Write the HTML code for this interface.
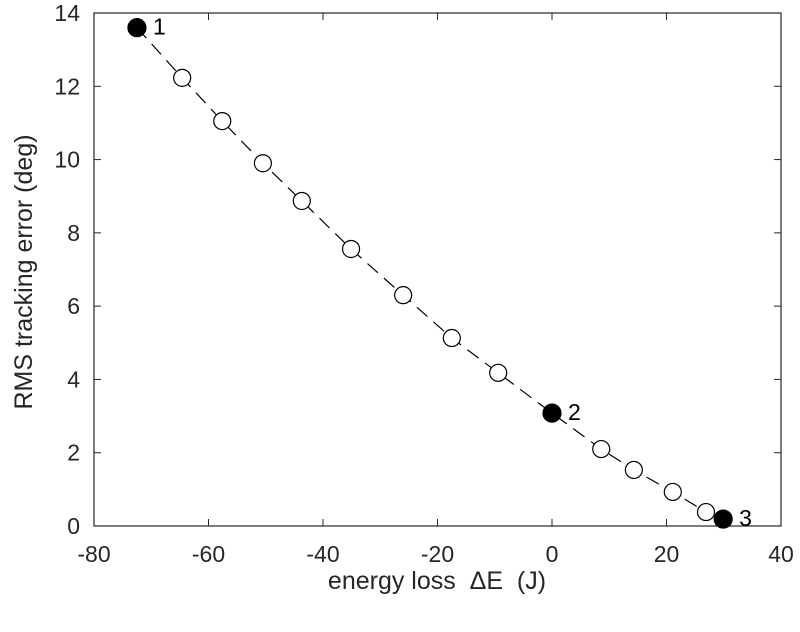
<!DOCTYPE html>
<html><head><meta charset="utf-8"><style>body{margin:0;background:#fff}svg{font-family:"Liberation Sans",Arial,sans-serif}</style></head>
<body>
<svg id="chart" width="800" height="627">
<rect x="94" y="13" width="687" height="513" fill="#fff" stroke="#262626" stroke-width="1.2"/>
<g id="ticks"></g><g id="series"></g>
<text x="437" y="589" font-size="25" text-anchor="middle" fill="#262626" xml:space="preserve">energy loss  ΔE  (J)</text>
<text transform="translate(32,272) rotate(-90)" font-size="25" text-anchor="middle" fill="#262626">RMS tracking error (deg)</text>
</svg>
<script>
const xs=[-72.5,-64.6,-57.6,-50.5,-43.7,-35.1,-26.0,-17.5,-9.4,0,8.6,14.3,21.1,26.9,29.9];
const ys=[13.6,12.23,11.05,9.9,8.87,7.56,6.3,5.13,4.18,3.08,2.1,1.53,0.93,0.38,0.19];
const filled=[1,0,0,0,0,0,0,0,0,1,0,0,0,0,1];
const labels=["1","","","","","","","","","2","","","","","3"];
const xTicks=[-80,-60,-40,-20,0,20,40];
const yTicks=[0,2,4,6,8,10,12,14];
const X=v=>94+(v+80)/120*687, Y=v=>526-v/14*513;
const NS="http://www.w3.org/2000/svg";
const tg=document.getElementById('ticks'), sg=document.getElementById('series');
function mk(tag,attrs,parent){const e=document.createElementNS(NS,tag);for(const k in attrs)e.setAttribute(k,attrs[k]);parent.appendChild(e);return e;}
xTicks.forEach(t=>{
 const l=mk('line',{x1:X(t),x2:X(t),y1:526,y2:519,stroke:'#262626'},tg);
 
 
 const l2=mk('line',{x1:X(t),x2:X(t),y1:13,y2:20,stroke:'#262626'},tg);
 
 
 const tx=mk('text',{x:X(t),y:562,'font-size':23,'text-anchor':'middle',fill:'#262626'},tg);tx.textContent=t;
 
 
});
yTicks.forEach(t=>{
 const l=mk('line',{x1:94,x2:101,y1:Y(t),y2:Y(t),stroke:'#262626'},tg);
 
 
 const l2=mk('line',{x1:774,x2:781,y1:Y(t),y2:Y(t),stroke:'#262626'},tg);
 
 
 const tx=mk('text',{x:80,y:Y(t)+8,'font-size':23,'text-anchor':'end',fill:'#262626'},tg);tx.textContent=t;
 
 
});
const line=mk('polyline',{points:xs.map((v,i)=>X(v)+','+Y(ys[i])).join(' '),fill:'none',stroke:'#000','stroke-width':1.2,'stroke-dasharray':'14 8'},sg);


xs.forEach((v,i)=>{
 const c=mk('circle',{cx:X(v),cy:Y(ys[i]),r:filled[i]?9:8.5,fill:filled[i]?'#000':'#fff',stroke:'#000','stroke-width':1.2},sg);
 
 
 if(labels[i]){const t=mk('text',{x:X(v)+16,y:Y(ys[i])+7,'font-size':23,fill:'#000'},sg);t.textContent=labels[i];
 
 }
});
</script>
</body></html>
